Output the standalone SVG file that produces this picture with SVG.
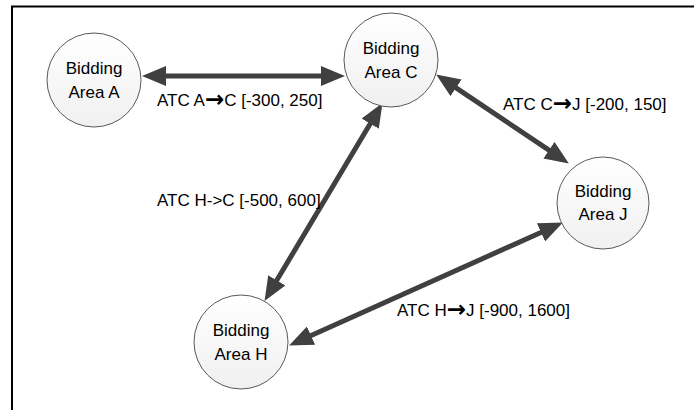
<svg xmlns="http://www.w3.org/2000/svg" width="694" height="410" viewBox="0 0 694 410">
  <defs>
    <linearGradient id="nodeFill" x1="0" y1="0" x2="0" y2="1">
      <stop offset="0" stop-color="#ffffff"/>
      <stop offset="1" stop-color="#f0f0f0"/>
    </linearGradient>
    <marker id="head" viewBox="0 -10 24 20" markerUnits="userSpaceOnUse" markerWidth="24" markerHeight="20" refX="9" refY="0" orient="auto-start-reverse">
      <path d="M0,-10 L24,0 L0,10 Z" fill="#404040"/>
    </marker>
    <style>
      .node circle { fill: url(#nodeFill); stroke: #595959; stroke-width: 1; }
      .node text { font-family: "Liberation Sans", Arial, sans-serif; font-size: 17px; fill: #000; text-anchor: middle; }
      .conn line { stroke: #404040; stroke-width: 5; marker-start: url(#head); marker-end: url(#head); }
      .label { font-family: "Liberation Sans", Arial, sans-serif; font-size: 17px; fill: #000; }
      .arr { font-family: "DejaVu Sans", sans-serif; font-weight: bold; font-size: 23px; }
    </style>
  </defs>
  <rect width="694" height="410" fill="#ffffff"/>
  <path d="M12,410 V6.5 H694" fill="none" stroke="#000" stroke-width="2"/>

  <g id="connectors" class="conn">
    <line x1="157" y1="76" x2="330" y2="76"/>
    <line x1="448.6" y1="82.8" x2="556.4" y2="155.2"/>
    <line x1="272.2" y1="288" x2="374.8" y2="116"/>
    <line x1="302.8" y1="339.3" x2="549.2" y2="228.7"/>
  </g>

  <g id="labels">
    <text class="label" x="157" y="106">ATC A<tspan class="arr" dy="1">→</tspan><tspan dy="-1">C [-300, 250]</tspan></text>
    <text class="label" x="503" y="110">ATC C<tspan class="arr" dy="1">→</tspan><tspan dy="-1">J [-200, 150]</tspan></text>
    <text class="label" x="157" y="206">ATC H-&gt;C [-500, 600]</text>
    <text class="label" x="397" y="316">ATC H<tspan class="arr" dy="1">→</tspan><tspan dy="-1">J [-900, 1600]</tspan></text>
  </g>

  <g id="node-A" class="node">
    <circle cx="94" cy="80" r="47"/>
    <text x="94" y="74">Bidding</text>
    <text x="94" y="98">Area A</text>
  </g>
  <g id="node-C" class="node">
    <circle cx="391" cy="60" r="47"/>
    <text x="391" y="54">Bidding</text>
    <text x="391" y="78">Area C</text>
  </g>
  <g id="node-J" class="node">
    <circle cx="603" cy="203" r="46"/>
    <text x="603" y="197">Bidding</text>
    <text x="603" y="220">Area J</text>
  </g>
  <g id="node-H" class="node">
    <circle cx="241" cy="342" r="47"/>
    <text x="241" y="336">Bidding</text>
    <text x="241" y="360">Area H</text>
  </g>
</svg>
